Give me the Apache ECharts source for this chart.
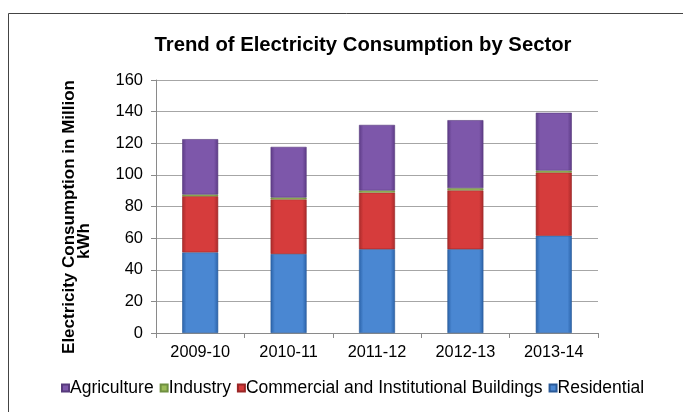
<!DOCTYPE html>
<html>
<head>
<meta charset="utf-8">
<script src="https://cdn.jsdelivr.net/npm/echarts@6/dist/echarts.min.js"></script>
<style>
  html, body { margin: 0; padding: 0; background: #fff; }
  #chart { width: 683px; height: 412px; }
</style>
</head>
<body>
<div id="chart"></div>
<script>
// Electricity consumption by sector, million kWh
const years = ['2009-10', '2010-11', '2011-12', '2012-13', '2013-14'];
const residential = [51, 50, 53, 53, 61.5];
const commercial = [35.5, 34.5, 35.8, 37.2, 40];
const industry = [1.1, 1.2, 1.3, 1.4, 1.2];
const agriculture = [35, 32, 41.5, 43, 36.6];
const yTicks = { min: 0, max: 160, interval: 20 };

const FONT = '"Liberation Sans", Arial, sans-serif';

// bevel-like shading across each bar: darker edges, lighter middle
function bevel(edge, mid) {
  return new echarts.graphic.LinearGradient(0, 0, 1, 0, [
    { offset: 0, color: edge },
    { offset: 0.12, color: mid },
    { offset: 0.88, color: mid },
    { offset: 1, color: edge }
  ]);
}

function stackSeries(name, data, edge, mid, border) {
  return {
    name: name,
    type: 'bar',
    stack: 'total',
    data: data,
    barWidth: 36,
    itemStyle: { color: bevel(edge, mid), borderColor: border, borderWidth: 0.6 },
    emphasis: { disabled: true }
  };
}

const chart = echarts.init(document.getElementById('chart'), null, { renderer: 'canvas' });
chart.setOption({
  animation: false,
  backgroundColor: '#fff',
  title: {
    text: 'Trend of Electricity Consumption by Sector',
    left: 358,
    top: 30,
    textAlign: 'center',
    textStyle: { fontFamily: FONT, fontSize: 20.3, fontWeight: 'bold', color: '#000' }
  },
  grid: { left: 156, right: 85, top: 80, bottom: 79 },
  legend: {
    data: ['Agriculture', 'Industry', 'Commercial and Institutional Buildings', 'Residential'],
    left: 56,
    top: 374,
    itemWidth: 7,
    itemHeight: 7,
    itemGap: 6,
    icon: 'rect',
    textStyle: { fontFamily: FONT, fontSize: 17.5, color: '#000', padding: [0, 0, 0, -4] }
  },
  xAxis: {
    type: 'category',
    data: years,
    axisLine: { lineStyle: { color: '#8a8a8a' } },
    axisTick: { show: true, alignWithLabel: false, length: 5, lineStyle: { color: '#8a8a8a' } },
    axisLabel: { fontFamily: FONT, fontSize: 16.3, color: '#000', margin: 12 }
  },
  yAxis: {
    type: 'value',
    min: yTicks.min,
    max: yTicks.max,
    interval: yTicks.interval,
    axisLine: { show: true, lineStyle: { color: '#8a8a8a' } },
    axisTick: { show: true, length: 5, lineStyle: { color: '#8a8a8a' } },
    axisLabel: { fontFamily: FONT, fontSize: 16.5, color: '#000', margin: 13 },
    splitLine: { lineStyle: { color: '#a6a6a6' } }
  },
  series: [
    stackSeries('Residential', residential, '#2a62a8', '#4a87d2', '#2a5a98'),
    stackSeries('Commercial and Institutional Buildings', commercial, '#a82a2a', '#d63c3c', '#9a2626'),
    stackSeries('Industry', industry, '#6f9040', '#9bbb59', '#6f9040'),
    stackSeries('Agriculture', agriculture, '#5c3a85', '#7d57aa', '#573a7c')
  ],
  color: ['#4a87d2', '#d63c3c', '#9bbb59', '#7d57aa'],
  graphic: [
    {
      type: 'rect',
      left: 6, top: 11,
      shape: { width: 700, height: 420 },
      style: { fill: 'none', stroke: '#444', lineWidth: 1 },
      silent: true
    },
    {
      type: 'text',
      x: 69, y: 217,
      rotation: Math.PI / 2,
      style: {
        text: 'Electricity Consumption in Million',
        font: 'bold 17px ' + FONT,
        fill: '#000',
        align: 'center',
        verticalAlign: 'middle'
      }
    },
    {
      type: 'text',
      x: 84, y: 241,
      rotation: Math.PI / 2,
      style: {
        text: 'kWh',
        font: 'bold 17px ' + FONT,
        fill: '#000',
        align: 'center',
        verticalAlign: 'middle'
      }
    }
  ]
});
</script>
</body>
</html>
